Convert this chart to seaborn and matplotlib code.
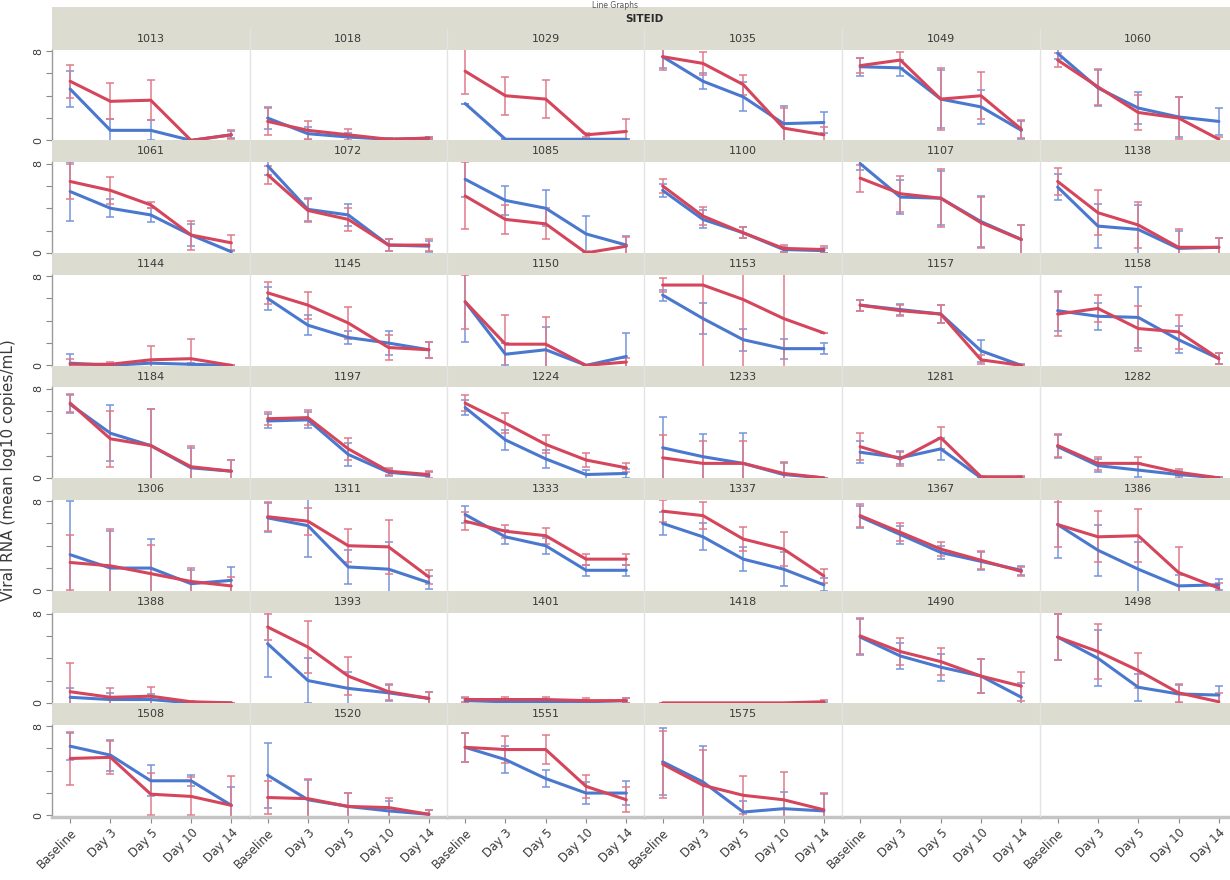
import matplotlib
matplotlib.use("Agg")
import matplotlib.pyplot as plt
from matplotlib.lines import Line2D
import numpy as np
import pandas as pd
import seaborn as sns

# ---------------------------------------------------------------- data
days = ["Baseline", "Day 3", "Day 5", "Day 10", "Day 14"]
groups = ["Group 1", "Group 2"]

sites = ["1013", "1018", "1029", "1035", "1049", "1060",
         "1061", "1072", "1085", "1100", "1107", "1138",
         "1144", "1145", "1150", "1153", "1157", "1158",
         "1184", "1197", "1224", "1233", "1281", "1282",
         "1306", "1311", "1333", "1337", "1367", "1386",
         "1388", "1393", "1401", "1418", "1490", "1498",
         "1508", "1520", "1551", "1575"]

# mean log10 copies/mL per site, Baseline..Day 14
g1_mean = [
    [4.6, 0.9, 0.9, 0.0, 0.5], [2.0, 0.6, 0.3, 0.1, 0.2], [3.3, 0.1, 0.1, 0.1, 0.1],
    [7.5, 5.3, 3.9, 1.5, 1.6], [6.6, 6.5, 3.7, 3.0, 0.9], [7.8, 4.7, 2.9, 2.1, 1.7],
    [5.5, 4.0, 3.4, 1.6, 0.1], [7.8, 3.9, 3.4, 0.7, 0.6], [6.6, 4.7, 4.0, 1.7, 0.7],
    [5.6, 3.0, 1.8, 0.3, 0.2], [8.0, 5.0, 4.9, 2.8, 1.2], [5.9, 2.4, 2.1, 0.4, 0.5],
    [0.2, 0.0, 0.2, 0.1, 0.0], [6.0, 3.6, 2.5, 2.0, 1.4], [5.7, 1.0, 1.4, 0.0, 0.8],
    [6.3, 4.2, 2.3, 1.5, 1.5], [5.4, 5.0, 4.6, 1.3, 0.0], [4.9, 4.4, 4.3, 2.3, 0.6],
    [6.6, 4.0, 2.9, 0.9, 0.6], [5.1, 5.2, 2.1, 0.5, 0.2], [6.3, 3.4, 1.7, 0.3, 0.4],
    [2.7, 1.9, 1.3, 0.3, 0.0], [2.3, 1.8, 2.6, 0.0, 0.0], [2.8, 1.1, 0.7, 0.3, 0.0],
    [3.2, 2.0, 2.0, 0.6, 0.9], [6.5, 5.8, 2.1, 1.9, 0.7], [6.8, 4.8, 4.0, 1.8, 1.8],
    [6.0, 4.8, 2.8, 1.9, 0.5], [6.6, 5.0, 3.4, 2.6, 1.8], [5.9, 3.6, 1.9, 0.4, 0.5],
    [0.5, 0.3, 0.3, 0.0, 0.0], [5.3, 2.0, 1.3, 0.9, 0.4], [0.2, 0.1, 0.1, 0.1, 0.2],
    [0.0, 0.0, 0.0, 0.0, 0.0], [5.9, 4.2, 3.2, 2.4, 0.5], [5.9, 4.0, 1.4, 0.8, 0.7],
    [6.2, 5.4, 3.1, 3.1, 0.9], [3.6, 1.4, 0.8, 0.4, 0.1], [6.1, 5.0, 3.3, 2.0, 2.0],
    [4.8, 3.0, 0.3, 0.6, 0.4],
]
g2_mean = [
    [5.3, 3.5, 3.6, 0.0, 0.5], [1.7, 0.9, 0.5, 0.1, 0.2], [6.2, 4.0, 3.7, 0.5, 0.8],
    [7.5, 6.9, 5.0, 1.1, 0.5], [6.7, 7.2, 3.7, 4.0, 1.0], [7.2, 4.8, 2.5, 2.0, 0.1],
    [6.4, 5.6, 4.3, 1.6, 0.9], [7.0, 3.8, 3.0, 0.7, 0.7], [5.1, 3.0, 2.6, 0.0, 0.6],
    [6.0, 3.3, 1.8, 0.4, 0.3], [6.7, 5.3, 4.9, 2.7, 1.2], [6.4, 3.6, 2.5, 0.5, 0.5],
    [0.1, 0.1, 0.5, 0.6, 0.0], [6.5, 5.4, 3.8, 1.6, 1.4], [5.7, 1.9, 1.9, 0.0, 0.3],
    [7.2, 7.2, 5.9, 4.2, 2.9], [5.4, 4.9, 4.6, 0.5, 0.0], [4.6, 5.1, 3.3, 3.0, 0.6],
    [6.7, 3.5, 2.9, 1.0, 0.6], [5.3, 5.4, 2.6, 0.6, 0.3], [6.7, 4.9, 3.0, 1.6, 0.9],
    [1.8, 1.3, 1.3, 0.4, 0.0], [2.8, 1.7, 3.6, 0.1, 0.1], [2.9, 1.3, 1.3, 0.5, 0.0],
    [2.5, 2.2, 1.5, 0.8, 0.4], [6.6, 6.2, 4.0, 3.9, 1.2], [6.2, 5.3, 4.9, 2.8, 2.8],
    [7.1, 6.7, 4.6, 3.7, 1.3], [6.7, 5.2, 3.7, 2.7, 1.7], [5.9, 4.8, 4.9, 1.6, 0.2],
    [1.0, 0.5, 0.6, 0.1, 0.0], [6.8, 5.0, 2.4, 1.0, 0.4], [0.3, 0.3, 0.3, 0.2, 0.2],
    [0.0, 0.0, 0.0, 0.0, 0.1], [6.0, 4.6, 3.7, 2.4, 1.5], [5.9, 4.6, 2.9, 0.9, 0.1],
    [5.1, 5.2, 1.9, 1.7, 0.9], [1.6, 1.5, 0.8, 0.7, 0.1], [6.1, 5.9, 5.9, 2.6, 1.4],
    [4.6, 2.7, 1.8, 1.4, 0.5],
]
# half-width of the error bars
g1_err = [
    [1.6, 1.0, 0.9, 0.0, 0.3], [1.0, 0.6, 0.4, 0.1, 0.1], [0.0, 0.0, 0.0, 0.0, 0.0],
    [1.0, 0.7, 1.3, 1.6, 0.9], [0.8, 0.7, 2.6, 1.5, 0.8], [0.5, 1.6, 1.4, 1.8, 1.2],
    [2.6, 0.8, 0.6, 1.0, 0.2], [0.8, 1.0, 1.0, 0.5, 0.5], [1.6, 1.3, 1.6, 1.6, 0.8],
    [0.6, 0.8, 0.5, 0.2, 0.2], [0.6, 1.5, 2.4, 2.3, 1.3], [1.2, 2.0, 2.2, 1.6, 0.8],
    [0.8, 0.1, 0.3, 0.1, 0.0], [1.0, 0.9, 0.6, 1.1, 0.7], [3.6, 1.0, 2.0, 0.0, 2.1],
    [0.5, 1.4, 1.0, 0.9, 0.5], [0.5, 0.5, 0.8, 1.0, 0.1], [1.8, 1.2, 2.7, 1.2, 0.5],
    [0.8, 2.5, 3.3, 1.8, 1.0], [0.6, 0.7, 1.0, 0.3, 0.3], [0.7, 0.9, 0.8, 0.4, 0.4],
    [2.8, 2.0, 2.7, 1.0, 0.0], [1.0, 0.6, 1.0, 0.1, 0.1], [1.0, 0.6, 0.6, 0.3, 0.1],
    [4.8, 3.3, 2.6, 1.2, 1.2], [1.3, 2.8, 1.5, 2.4, 0.6], [0.8, 0.6, 0.7, 0.5, 0.5],
    [1.0, 1.2, 1.1, 1.5, 0.6], [1.0, 0.8, 0.6, 0.8, 0.4], [3.0, 2.3, 2.4, 1.0, 0.5],
    [0.8, 0.6, 0.5, 0.1, 0.0], [3.0, 2.0, 1.5, 0.7, 0.6], [0.2, 0.2, 0.2, 0.2, 0.2],
    [0.0, 0.0, 0.0, 0.0, 0.1], [1.6, 1.2, 1.2, 1.5, 1.3], [2.1, 2.5, 1.2, 0.8, 0.8],
    [1.2, 1.4, 1.4, 0.5, 1.6], [2.9, 1.8, 1.2, 0.9, 0.4], [1.3, 1.2, 0.8, 1.0, 1.1],
    [3.0, 3.2, 1.0, 1.5, 1.5],
]
g2_err = [
    [1.5, 1.6, 1.8, 0.0, 0.4], [1.2, 0.8, 0.5, 0.1, 0.1], [2.0, 1.7, 1.7, 0.2, 1.1],
    [1.2, 1.0, 0.9, 1.8, 0.7], [0.7, 0.7, 2.8, 2.1, 0.8], [0.6, 1.6, 1.6, 1.9, 0.2],
    [1.6, 1.2, 0.3, 1.3, 0.7], [0.8, 1.0, 1.0, 0.5, 0.5], [3.0, 1.3, 1.4, 0.2, 0.8],
    [0.6, 0.8, 0.5, 0.3, 0.3], [1.2, 1.6, 2.6, 2.3, 1.3], [1.2, 2.0, 2.1, 1.6, 0.8],
    [0.5, 0.2, 1.2, 1.8, 0.0], [1.0, 1.2, 1.4, 1.1, 0.7], [2.4, 2.6, 2.4, 0.0, 0.4],
    [0.6, 7.5, 6.0, 4.5, 0.0], [0.5, 0.5, 0.8, 0.4, 0.0], [2.0, 1.2, 2.0, 1.5, 0.5],
    [0.8, 2.5, 3.3, 1.9, 1.0], [0.6, 0.7, 1.0, 0.3, 0.3], [0.7, 0.9, 0.8, 0.6, 0.4],
    [2.0, 2.0, 2.0, 1.0, 0.0], [1.2, 0.6, 1.0, 0.1, 0.1], [1.0, 0.6, 0.6, 0.3, 0.1],
    [2.5, 3.3, 2.6, 1.2, 0.8], [1.3, 1.2, 1.5, 2.4, 0.6], [0.8, 0.6, 0.7, 0.5, 0.5],
    [1.0, 1.2, 1.1, 1.5, 0.6], [1.0, 0.8, 0.6, 0.8, 0.4], [2.0, 2.3, 2.4, 2.3, 0.5],
    [2.6, 0.8, 0.8, 0.1, 0.0], [1.2, 2.3, 1.7, 0.7, 0.6], [0.2, 0.2, 0.2, 0.2, 0.2],
    [0.0, 0.0, 0.0, 0.0, 0.2], [1.6, 1.2, 1.2, 1.5, 1.3], [2.1, 2.5, 1.6, 0.8, 0.8],
    [2.4, 1.5, 1.9, 1.7, 2.6], [1.5, 1.8, 1.2, 0.9, 0.4], [1.3, 1.2, 1.3, 1.0, 1.1],
    [3.0, 3.2, 1.7, 2.5, 1.5],
]

# ---------------------------------------------------------------- long table
rows = []
for s_i, site in enumerate(sites):
    for g, means, errs in ((groups[0], g1_mean, g1_err), (groups[1], g2_mean, g2_err)):
        for d_i, day in enumerate(days):
            rows.append(dict(site=site, group=g, day=day, pos=d_i,
                             mean=means[s_i][d_i], err=errs[s_i][d_i]))
df = pd.DataFrame(rows)

# ---------------------------------------------------------------- style
sns.set_theme(style="white")
plt.rcParams["font.family"] = ["DejaVu Sans"]
line_colors = {groups[0]: "#4a78cf", groups[1]: "#d5455b"}
bar_colors = {groups[0]: "#7595da", groups[1]: "#e07b8b"}
strip_color = "#dddcd0"
text_color = "#3a3a3a"

W, H = 1230, 880
fig = plt.figure(figsize=(W / 100, H / 100), dpi=100)
fig.patch.set_facecolor("white")


def add_px_axes(left, top, width, height):
    return fig.add_axes([left / W, 1 - (top + height) / H, width / W, height / H])


NCOL, NROW = 6, 7
X0, COLW = 52, 197.5
STRIP_TOP0, ROWP = 28, 112.5
STRIP_H, PANEL_H = 22, 91.5

# facet header band
hdr = add_px_axes(X0, 7, COLW * NCOL, 21)
hdr.set_facecolor(strip_color)
hdr.set_xticks([]); hdr.set_yticks([])
for sp in hdr.spines.values():
    sp.set_visible(False)
hdr.text(0.5, 0.45, "SITEID", ha="center", va="center", fontsize=7.5,
         fontweight="bold", color="#2a2a2a", transform=hdr.transAxes)

# small title in the narrow strip above the header band
fig.text(0.5, 1 - 0.5 / H, "Line Graphs", ha="center", va="top",
         fontsize=5.5, color="#555555", zorder=10)

for k in range(NCOL * NROW):
    r, c = divmod(k, NCOL)
    left = X0 + COLW * c
    stop = STRIP_TOP0 + ROWP * r

    # strip with site id
    st = add_px_axes(left, stop, COLW, STRIP_H)
    st.set_facecolor(strip_color)
    st.set_xticks([]); st.set_yticks([])
    for sp in st.spines.values():
        sp.set_visible(False)
    if k < len(sites):
        st.text(0.5, 0.5, sites[k], ha="center", va="center", fontsize=8,
                color=text_color, transform=st.transAxes)

    ax = add_px_axes(left, stop + STRIP_H, COLW, PANEL_H)
    ax.set_facecolor("white")

    if k < len(sites):
        sub = df[df["site"] == sites[k]]
        for g in groups:
            gs = sub[sub["group"] == g]
            ax.errorbar(gs["pos"], gs["mean"], yerr=gs["err"], fmt="none",
                        ecolor=bar_colors[g], elinewidth=1.1, capsize=3,
                        capthick=1.1, zorder=2)
        sns.lineplot(data=sub, x="pos", y="mean", hue="group",
                     hue_order=groups, palette=line_colors, linewidth=2.2,
                     legend=False, errorbar=None, sort=False, ax=ax, zorder=3)

    ax.set_xlim(-0.45, 4.45)
    ax.set_ylim(-0.1, 8.1)
    ax.set_xlabel("")
    ax.set_ylabel("")
    for sp in ("top", "right"):
        ax.spines[sp].set_visible(False)

    # y axis only on the first column
    if c == 0:
        ax.spines["left"].set_color("#9a9a9a")
        ax.spines["left"].set_linewidth(1.0)
        ax.set_yticks([0, 2, 4, 6, 8])
        ax.set_yticklabels(["0", "", "", "", "8"], rotation=90, va="center")
        ax.tick_params(axis="y", length=4, width=0.8, color="#8a8a8a",
                       labelsize=8, labelcolor=text_color, pad=2, left=True)
    else:
        ax.spines["left"].set_visible(False)
        ax.set_yticks([])

    # x axis only on the bottom row
    if r == NROW - 1:
        ax.spines["bottom"].set_color("#c4c4c4")
        ax.spines["bottom"].set_linewidth(2.5)
        ax.set_xticks(range(len(days)))
        ax.set_xticklabels(days, rotation=45, ha="right", rotation_mode="anchor")
        ax.tick_params(axis="x", length=4, width=0.8, color="#8a8a8a",
                       labelsize=8.5, labelcolor=text_color, pad=3, bottom=True)
    else:
        ax.spines["bottom"].set_visible(False)
        ax.set_xticks([])

# light column separators
for c in range(1, NCOL):
    x = (X0 + COLW * c) / W
    fig.add_artist(Line2D([x, x], [1 - 28 / H, 1 - 816 / H],
                          color="#e3e3e3", linewidth=1.0, zorder=5))

fig.text(9 / W, 1 - 470 / H, "Viral RNA (mean log10 copies/mL)", rotation=90,
         ha="center", va="center", fontsize=11, color=text_color)

fig.savefig("out.png", dpi=100, facecolor="white")
